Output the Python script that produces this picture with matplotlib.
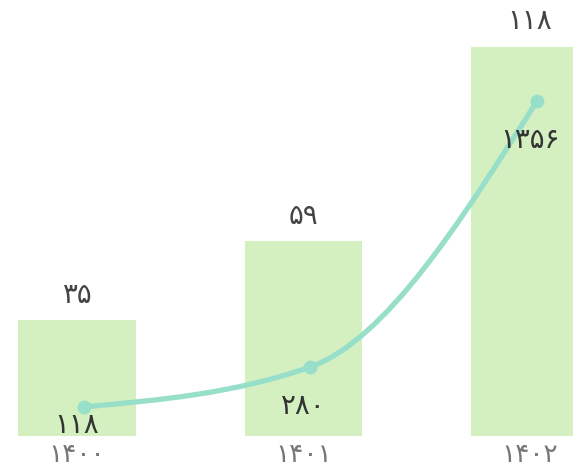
import numpy as np
import matplotlib.pyplot as plt
from matplotlib.path import Path
from matplotlib.patches import PathPatch
from matplotlib.transforms import ScaledTranslation

plt.rcParams['font.family'] = ['DejaVu Sans']

years = ["۱۴۰۰", "۱۴۰۱", "۱۴۰۲"]
bar_values = [35, 59, 118]
bar_labels = ["۳۵", "۵۹", "۱۱۸"]
line_values = [118, 280, 1356]
line_labels = ["۱۱۸", "۲۸۰", "۱۳۵۶"]

bar_color = "#d4f0c0"
line_color = "#98dfca"


def monotone_path(xs, ys):
    # monotone-x cubic curve as bezier segments
    xs = np.asarray(xs, float)
    ys = np.asarray(ys, float)
    h = np.diff(xs)
    s = np.diff(ys) / h
    t = np.zeros(len(xs))
    for i in range(1, len(xs) - 1):
        p = (s[i - 1] * h[i] + s[i] * h[i - 1]) / (h[i - 1] + h[i])
        t[i] = (np.sign(s[i - 1]) + np.sign(s[i])) * min(abs(s[i - 1]), abs(s[i]), 0.5 * abs(p))
    t[0] = (3 * s[0] - t[1]) / 2
    t[-1] = (3 * s[-1] - t[-2]) / 2
    verts = [(xs[0], ys[0])]
    codes = [Path.MOVETO]
    for i in range(len(xs) - 1):
        d = h[i] / 3
        verts += [(xs[i] + d, ys[i] + t[i] * d), (xs[i + 1] - d, ys[i + 1] - t[i + 1] * d), (xs[i + 1], ys[i + 1])]
        codes += [Path.CURVE4] * 3
    return Path(verts, codes)


fig = plt.figure(figsize=(5.73, 4.70), dpi=100)
ax = fig.add_axes([0, 34 / 470, 1, 436 / 470])
x = np.arange(len(years))
ax.bar(x, bar_values, width=0.517, color=bar_color, zorder=1)
ax.set_xlim(-0.34, 2.19)
ax.set_ylim(0, 132.1)
for xi, v, lab in zip(x, bar_values, bar_labels):
    ax.annotate(lab, (xi, v), xytext=(0, 8), textcoords="offset points", ha="center", va="bottom",
                fontsize=20, color="#444444")
ax.set_xticks(x, years)
ax.tick_params(axis="x", length=0, labelsize=19, labelcolor="#777777", pad=4)
ax.set_yticks([])
for sp in ax.spines.values():
    sp.set_visible(False)

ax2 = ax.twinx()
ax2.set_ylim(0, 1765)
ax2.set_yticks([])
for sp in ax2.spines.values():
    sp.set_visible(False)
shift = ax2.transData + ScaledTranslation(7 / 100, 0, fig.dpi_scale_trans)
ax2.add_patch(PathPatch(monotone_path(x, line_values), facecolor="none", edgecolor=line_color,
                        linewidth=3.8, transform=shift, zorder=3, capstyle="round"))
ax2.plot(x, line_values, "o", color=line_color, markersize=9, transform=shift, zorder=4)
# first label is pushed up to stay inside the plot
label_drop = [-3, -18, -18]
for xi, v, lab, dy in zip(x, line_values, line_labels, label_drop):
    ax2.annotate(lab, (xi, v), xytext=(0, dy), textcoords="offset points", ha="center", va="top",
                 fontsize=20, color="#333333", zorder=5,
                 transform=shift)

fig.savefig("out.png", dpi=100)
